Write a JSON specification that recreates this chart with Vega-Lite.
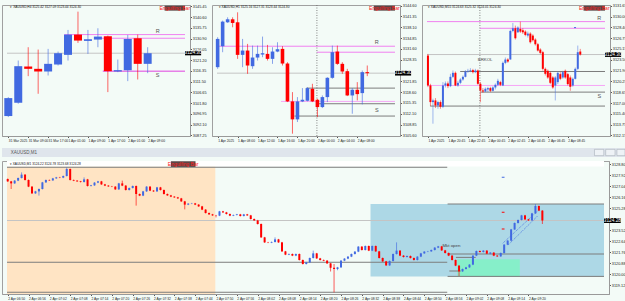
{
"$schema":"https://vega.github.io/schema/vega-lite/v6.json",
"background":"#f3fbf7",
"padding":{"left":1,"top":3,"right":0,"bottom":0},
"config":{"view":{"stroke":"#a0a0a0","fill":"#f3fbf7"},"font":"Liberation Sans","text":{"font":"Liberation Sans"},
"axis":{"labelFontSize":3.8,"labelColor":"#222","labelFont":"Liberation Sans","tickColor":"#555","tickSize":1.5,"domainColor":"#999","labelPadding":0.8,"grid":false,"labelOverlap":false,"labelFlush":false,"labelSeparation":0,"tickCount":200},
"axisX":{"labelFontSize":3.3}},
"datasets":{
"c1":[{"k":0,"o":3095.95,"h":3104.50,"l":3095.50,"c":3104.05},{"k":1,"o":3101.95,"h":3121.00,"l":3101.50,"c":3118.45},{"k":2,"o":3118.30,"h":3127.00,"l":3113.95,"c":3117.25},{"k":3,"o":3117.25,"h":3125.95,"l":3106.00,"c":3116.05},{"k":4,"o":3116.05,"h":3126.25,"l":3114.25,"c":3119.50},{"k":5,"o":3119.20,"h":3125.05,"l":3118.75,"c":3124.30},{"k":6,"o":3123.55,"h":3134.80,"l":3121.00,"c":3132.70},{"k":7,"o":3132.70,"h":3143.05,"l":3128.95,"c":3130.00},{"k":8,"o":3129.85,"h":3134.80,"l":3124.00,"c":3130.60},{"k":9,"o":3130.45,"h":3135.55,"l":3127.00,"c":3131.80},{"k":10,"o":3131.95,"h":3132.25,"l":3106.75,"c":3116.20},{"k":11,"o":3116.05,"h":3121.45,"l":3115.75,"c":3116.65},{"k":12,"o":3116.65,"h":3132.55,"l":3111.70,"c":3130.75},{"k":13,"o":3131.05,"h":3132.70,"l":3112.45,"c":3119.50},{"k":14,"o":3119.50,"h":3127.00,"l":3115.30,"c":3124.30}],
"l1":[{"a":5.62,"b":17.75,"y":3132.70,"kind":"res"},{"a":9.3,"b":17.75,"y":3131.05,"kind":"res"},{"a":9.49,"b":17.75,"y":3116.20,"kind":"sup"},{"a":-0.13,"b":17.75,"y":3124.30,"kind":"price"}],
"r1":[{"a":15.7,"b":17.75,"y":3143.5,"y2":3145.75,"kind":"engbox"},{"a":17.75,"b":19.37,"y":3123.35,"y2":3125.2,"kind":"pxbox"}],
"t1":[{"k":15.0,"y":3134.20,"s":"R","kind":"rs"},{"k":15.0,"y":3114.55,"s":"S","kind":"rs"},{"k":16.72,"y":3144.62,"s":"Engulfing Bar","kind":"eng"},{"k":18.56,"y":3124.20,"s":"3124.30","kind":"px"},{"k":0.2,"y":3145.0,"s":"▾ XAUUSD,H4  3125.42 3127.09 3123.44 3124.30","kind":"hdr"}],
"c2":[{"k":0,"o":3126.10,"h":3135.10,"l":3125.60,"c":3134.60},{"k":1,"o":3132.40,"h":3140.10,"l":3130.60,"c":3139.80},{"k":2,"o":3139.60,"h":3141.10,"l":3139.40,"c":3140.50},{"k":3,"o":3140.50,"h":3141.10,"l":3138.10,"c":3139.40},{"k":4,"o":3139.60,"h":3142.60,"l":3128.60,"c":3129.80},{"k":5,"o":3129.80,"h":3134.60,"l":3126.10,"c":3131.10},{"k":6,"o":3131.10,"h":3133.10,"l":3124.10,"c":3126.60},{"k":7,"o":3126.40,"h":3132.60,"l":3125.60,"c":3129.00},{"k":8,"o":3129.00,"h":3132.60,"l":3128.10,"c":3130.10},{"k":9,"o":3129.90,"h":3135.30,"l":3129.10,"c":3130.30},{"k":10,"o":3130.10,"h":3132.80,"l":3128.10,"c":3128.60},{"k":11,"o":3128.60,"h":3132.10,"l":3127.10,"c":3130.80},{"k":12,"o":3130.80,"h":3133.60,"l":3130.60,"c":3131.50},{"k":13,"o":3131.60,"h":3132.40,"l":3126.60,"c":3127.20},{"k":14,"o":3127.20,"h":3127.60,"l":3115.60,"c":3115.80},{"k":15,"o":3115.80,"h":3118.60,"l":3106.10,"c":3110.40},{"k":16,"o":3110.40,"h":3117.10,"l":3109.60,"c":3115.80},{"k":17,"o":3115.80,"h":3119.80,"l":3115.60,"c":3116.30},{"k":18,"o":3116.00,"h":3120.10,"l":3115.80,"c":3119.80},{"k":19,"o":3119.60,"h":3121.10,"l":3115.60,"c":3115.80},{"k":20,"o":3116.30,"h":3116.60,"l":3111.10,"c":3114.10},{"k":21,"o":3114.10,"h":3117.60,"l":3113.80,"c":3117.10},{"k":22,"o":3117.10,"h":3123.10,"l":3115.60,"c":3122.90},{"k":23,"o":3122.90,"h":3132.60,"l":3122.60,"c":3130.60},{"k":24,"o":3130.80,"h":3132.60,"l":3126.80,"c":3127.10},{"k":25,"o":3127.10,"h":3127.60,"l":3124.10,"c":3124.80},{"k":26,"o":3124.90,"h":3125.60,"l":3117.40,"c":3117.60},{"k":27,"o":3117.60,"h":3119.80,"l":3112.10,"c":3119.30},{"k":28,"o":3119.30,"h":3121.60,"l":3116.10,"c":3118.00},{"k":29,"o":3118.30,"h":3125.10,"l":3114.90,"c":3124.60},{"k":30,"o":3124.60,"h":3126.60,"l":3123.40,"c":3124.30}],
"l2":[{"a":-0.13,"b":35.56,"y":3132.40,"kind":"res"},{"a":19.87,"b":35.56,"y":3130.60,"kind":"res"},{"a":12.7,"b":35.56,"y":3115.80,"kind":"zone"},{"a":-0.13,"b":35.56,"y":3124.30,"kind":"price"},{"a":17.8,"b":35.56,"y":3119.80,"kind":"level"},{"a":20.3,"b":35.56,"y":3115.10,"kind":"level"},{"a":15.4,"b":35.56,"y":3111.40,"kind":"level"}],
"r2":[{"a":31.3,"b":35.56,"y":3143.1,"y2":3144.6,"kind":"engbox"},{"a":35.56,"b":38.79,"y":3123.58,"y2":3125.02,"kind":"pxbox"}],
"t2":[{"k":31.9,"y":3133.60,"s":"R","kind":"rs"},{"k":31.9,"y":3113.10,"s":"S","kind":"rs"},{"k":33.43,"y":3143.85,"s":"Engulfing Bar","kind":"eng"},{"k":37.18,"y":3124.30,"s":"3124.30","kind":"px"},{"k":0.2,"y":3144.1,"s":"▾ XAUUSD,H1  3125.16 3127.31 3123.44 3124.30","kind":"hdr"}],
"c3":[{"k":0,"o":3124.15,"h":3124.40,"l":3119.40,"c":3119.65},{"k":1,"o":3119.65,"h":3119.90,"l":3116.55,"c":3117.15},{"k":2,"o":3117.15,"h":3117.65,"l":3113.90,"c":3117.40},{"k":3,"o":3117.40,"h":3117.75,"l":3116.25,"c":3116.65},{"k":4,"o":3116.65,"h":3117.35,"l":3116.15,"c":3117.15},{"k":5,"o":3117.15,"h":3117.40,"l":3116.15,"c":3116.45},{"k":6,"o":3116.45,"h":3120.15,"l":3116.25,"c":3119.65},{"k":7,"o":3119.65,"h":3120.25,"l":3119.35,"c":3119.95},{"k":8,"o":3119.95,"h":3120.25,"l":3119.25,"c":3119.55},{"k":9,"o":3119.55,"h":3121.40,"l":3119.40,"c":3120.95},{"k":10,"o":3120.95,"h":3121.90,"l":3120.75,"c":3121.55},{"k":11,"o":3121.55,"h":3121.75,"l":3119.55,"c":3119.65},{"k":12,"o":3119.65,"h":3120.35,"l":3119.45,"c":3120.05},{"k":13,"o":3120.05,"h":3120.75,"l":3119.85,"c":3120.55},{"k":14,"o":3120.55,"h":3121.15,"l":3120.35,"c":3120.95},{"k":15,"o":3120.95,"h":3121.95,"l":3120.85,"c":3121.75},{"k":16,"o":3121.75,"h":3122.15,"l":3121.55,"c":3121.85},{"k":17,"o":3121.85,"h":3122.25,"l":3121.65,"c":3121.95},{"k":18,"o":3121.95,"h":3122.15,"l":3121.45,"c":3121.65},{"k":19,"o":3121.65,"h":3122.15,"l":3121.50,"c":3121.90},{"k":20,"o":3121.90,"h":3122.05,"l":3119.75,"c":3119.90},{"k":21,"o":3119.90,"h":3120.15,"l":3117.15,"c":3118.90},{"k":22,"o":3118.90,"h":3119.25,"l":3118.55,"c":3118.75},{"k":23,"o":3118.75,"h":3119.35,"l":3118.65,"c":3119.15},{"k":24,"o":3119.05,"h":3119.45,"l":3118.65,"c":3119.25},{"k":25,"o":3119.25,"h":3119.45,"l":3118.65,"c":3118.85},{"k":26,"o":3118.85,"h":3119.55,"l":3118.75,"c":3119.35},{"k":27,"o":3119.35,"h":3119.95,"l":3119.05,"c":3119.75},{"k":28,"o":3119.75,"h":3120.65,"l":3119.55,"c":3120.35},{"k":29,"o":3120.15,"h":3120.35,"l":3119.55,"c":3119.75},{"k":30,"o":3119.65,"h":3123.25,"l":3119.55,"c":3123.05},{"k":31,"o":3123.05,"h":3123.85,"l":3122.85,"c":3123.55},{"k":32,"o":3123.55,"h":3123.75,"l":3123.05,"c":3123.25},{"k":33,"o":3123.55,"h":3128.05,"l":3123.55,"c":3127.85},{"k":34,"o":3127.85,"h":3129.05,"l":3127.65,"c":3128.25},{"k":35,"o":3128.25,"h":3128.65,"l":3126.55,"c":3126.75},{"k":36,"o":3127.65,"h":3128.55,"l":3127.55,"c":3128.35},{"k":37,"o":3128.15,"h":3129.25,"l":3127.55,"c":3127.75},{"k":38,"o":3127.95,"h":3128.25,"l":3127.40,"c":3127.65},{"k":39,"o":3127.75,"h":3127.95,"l":3127.05,"c":3127.25},{"k":40,"o":3127.15,"h":3127.75,"l":3126.85,"c":3127.45},{"k":41,"o":3127.45,"h":3127.65,"l":3125.95,"c":3126.15},{"k":42,"o":3127.15,"h":3127.35,"l":3126.25,"c":3126.45},{"k":43,"o":3126.55,"h":3126.75,"l":3125.65,"c":3125.85},{"k":44,"o":3125.85,"h":3126.05,"l":3124.75,"c":3124.90},{"k":45,"o":3125.05,"h":3125.25,"l":3124.35,"c":3124.55},{"k":46,"o":3124.65,"h":3124.85,"l":3121.90,"c":3122.15},{"k":47,"o":3122.15,"h":3122.35,"l":3121.15,"c":3121.40},{"k":48,"o":3121.85,"h":3122.05,"l":3120.65,"c":3120.85},{"k":49,"o":3121.55,"h":3121.75,"l":3119.85,"c":3120.05},{"k":50,"o":3120.85,"h":3121.05,"l":3119.15,"c":3119.35},{"k":51,"o":3119.65,"h":3121.05,"l":3117.40,"c":3120.85},{"k":52,"o":3120.15,"h":3121.75,"l":3119.85,"c":3121.55},{"k":53,"o":3121.35,"h":3121.65,"l":3120.45,"c":3120.65},{"k":54,"o":3120.85,"h":3121.85,"l":3120.65,"c":3121.65},{"k":55,"o":3121.85,"h":3122.05,"l":3120.65,"c":3120.85},{"k":56,"o":3121.35,"h":3121.55,"l":3119.65,"c":3119.85},{"k":57,"o":3120.85,"h":3121.15,"l":3118.85,"c":3119.45},{"k":58,"o":3119.65,"h":3120.85,"l":3119.45,"c":3120.65},{"k":59,"o":3120.65,"h":3122.35,"l":3120.55,"c":3122.15},{"k":60,"o":3122.15,"h":3125.65,"l":3121.95,"c":3124.65},{"k":61,"o":3124.75,"h":3125.15,"l":3124.15,"c":3124.30}],
"l3":[{"a":-0.38,"b":70.9,"y":3129.25,"kind":"res"},{"a":20.8,"b":70.9,"y":3128.25,"kind":"res"},{"a":-0.38,"b":70.9,"y":3124.30,"kind":"price"},{"a":12.9,"b":70.9,"y":3121.75,"kind":"level"},{"a":-0.38,"b":70.9,"y":3119.65,"kind":"zone"},{"a":21.1,"b":70.9,"y":3118.65,"kind":"level"},{"a":0.9,"b":70.9,"y":3116.55,"kind":"level"},{"a":58.5,"b":59.3,"y":3128.35,"kind":"bmark"}],
"r3":[{"a":62.3,"b":70.9,"y":3130.90,"y2":3131.65,"kind":"engbox"},{"a":70.9,"b":77.35,"y":3123.94,"y2":3124.66,"kind":"pxbox"}],
"t3":[{"k":68.6,"y":3129.75,"s":"R","kind":"rs"},{"k":68.6,"y":3118.0,"s":"S","kind":"rs"},{"k":22.9,"y":3123.55,"s":"BRKOL","kind":"note"},{"k":66.6,"y":3131.28,"s":"Engulfing Bar","kind":"eng"},{"k":74.1,"y":3124.30,"s":"3124.30","kind":"px"},{"k":0.0,"y":3131.4,"s":"▾ XAUUSD,M15  3124.63 3125.32 3124.01 3124.30","kind":"hdr"}],
"cb":[{"k":0,"o":3127.60,"h":3127.64,"l":3127.37,"c":3127.41},{"k":1,"o":3127.41,"h":3127.45,"l":3126.80,"c":3127.25},{"k":2,"o":3127.25,"h":3127.51,"l":3127.21,"c":3127.47},{"k":3,"o":3127.47,"h":3127.72,"l":3127.43,"c":3127.68},{"k":4,"o":3127.68,"h":3128.13,"l":3127.64,"c":3127.95},{"k":5,"o":3127.95,"h":3127.99,"l":3127.48,"c":3127.52},{"k":6,"o":3127.52,"h":3127.56,"l":3126.95,"c":3126.99},{"k":7,"o":3126.99,"h":3127.03,"l":3126.41,"c":3126.45},{"k":8,"o":3126.45,"h":3126.65,"l":3126.41,"c":3126.61},{"k":9,"o":3126.61,"h":3126.84,"l":3126.27,"c":3126.80},{"k":10,"o":3126.80,"h":3127.37,"l":3126.76,"c":3127.33},{"k":11,"o":3127.33,"h":3127.56,"l":3127.29,"c":3127.52},{"k":12,"o":3127.52,"h":3127.56,"l":3127.45,"c":3127.49},{"k":13,"o":3127.49,"h":3127.69,"l":3127.45,"c":3127.65},{"k":14,"o":3127.65,"h":3127.77,"l":3127.61,"c":3127.73},{"k":15,"o":3127.73,"h":3127.77,"l":3127.67,"c":3127.71},{"k":16,"o":3127.71,"h":3127.88,"l":3127.67,"c":3127.84},{"k":17,"o":3127.84,"h":3128.53,"l":3127.80,"c":3128.40},{"k":18,"o":3128.40,"h":3128.44,"l":3127.48,"c":3127.52},{"k":19,"o":3127.52,"h":3127.56,"l":3127.43,"c":3127.47},{"k":20,"o":3127.47,"h":3127.51,"l":3127.37,"c":3127.41},{"k":21,"o":3127.41,"h":3127.45,"l":3127.32,"c":3127.36},{"k":22,"o":3127.36,"h":3127.73,"l":3127.32,"c":3127.57},{"k":23,"o":3127.57,"h":3127.61,"l":3127.00,"c":3127.04},{"k":24,"o":3127.04,"h":3127.13,"l":3127.00,"c":3127.09},{"k":25,"o":3127.09,"h":3127.35,"l":3127.05,"c":3127.31},{"k":26,"o":3127.31,"h":3127.45,"l":3127.27,"c":3127.41},{"k":27,"o":3127.41,"h":3127.45,"l":3127.13,"c":3127.17},{"k":28,"o":3127.17,"h":3127.21,"l":3127.03,"c":3127.07},{"k":29,"o":3127.07,"h":3127.11,"l":3126.97,"c":3127.01},{"k":30,"o":3127.01,"h":3127.05,"l":3126.95,"c":3126.99},{"k":31,"o":3126.99,"h":3127.03,"l":3126.73,"c":3126.77},{"k":32,"o":3126.77,"h":3127.29,"l":3126.73,"c":3127.25},{"k":33,"o":3127.25,"h":3127.47,"l":3127.03,"c":3127.07},{"k":34,"o":3127.07,"h":3127.11,"l":3126.68,"c":3126.72},{"k":35,"o":3126.72,"h":3126.92,"l":3126.68,"c":3126.88},{"k":36,"o":3126.88,"h":3127.08,"l":3126.84,"c":3127.04},{"k":37,"o":3127.04,"h":3127.08,"l":3125.47,"c":3126.40},{"k":38,"o":3126.40,"h":3126.44,"l":3126.23,"c":3126.27},{"k":39,"o":3126.27,"h":3126.65,"l":3126.23,"c":3126.61},{"k":40,"o":3126.61,"h":3127.03,"l":3126.57,"c":3126.99},{"k":41,"o":3126.99,"h":3127.03,"l":3126.63,"c":3126.67},{"k":42,"o":3126.67,"h":3126.71,"l":3126.57,"c":3126.61},{"k":43,"o":3126.61,"h":3126.97,"l":3126.57,"c":3126.93},{"k":44,"o":3126.93,"h":3126.97,"l":3126.68,"c":3126.72},{"k":45,"o":3126.72,"h":3126.76,"l":3126.36,"c":3126.40},{"k":46,"o":3126.40,"h":3126.44,"l":3126.25,"c":3126.29},{"k":47,"o":3126.29,"h":3126.33,"l":3126.15,"c":3126.19},{"k":48,"o":3126.19,"h":3126.23,"l":3126.09,"c":3126.13},{"k":49,"o":3126.13,"h":3126.17,"l":3126.01,"c":3126.05},{"k":50,"o":3126.05,"h":3126.09,"l":3125.77,"c":3125.81},{"k":51,"o":3125.81,"h":3125.85,"l":3125.17,"c":3125.55},{"k":52,"o":3125.55,"h":3125.67,"l":3125.51,"c":3125.63},{"k":53,"o":3125.63,"h":3125.69,"l":3125.59,"c":3125.65},{"k":54,"o":3125.65,"h":3125.69,"l":3125.51,"c":3125.55},{"k":55,"o":3125.55,"h":3125.59,"l":3125.37,"c":3125.41},{"k":56,"o":3125.41,"h":3125.45,"l":3125.11,"c":3125.15},{"k":57,"o":3125.15,"h":3125.19,"l":3124.84,"c":3124.88},{"k":58,"o":3124.88,"h":3124.92,"l":3124.73,"c":3124.77},{"k":59,"o":3124.77,"h":3124.81,"l":3124.65,"c":3124.69},{"k":60,"o":3124.69,"h":3124.73,"l":3124.53,"c":3124.67},{"k":61,"o":3124.67,"h":3125.05,"l":3124.63,"c":3125.01},{"k":62,"o":3125.01,"h":3125.05,"l":3124.89,"c":3124.93},{"k":63,"o":3124.93,"h":3124.97,"l":3124.76,"c":3124.80},{"k":64,"o":3124.80,"h":3124.84,"l":3124.63,"c":3124.67},{"k":65,"o":3124.67,"h":3124.76,"l":3124.63,"c":3124.72},{"k":66,"o":3124.72,"h":3124.81,"l":3124.68,"c":3124.77},{"k":67,"o":3124.77,"h":3124.81,"l":3124.60,"c":3124.64},{"k":68,"o":3124.64,"h":3124.81,"l":3124.60,"c":3124.77},{"k":69,"o":3124.77,"h":3124.81,"l":3124.65,"c":3124.69},{"k":70,"o":3124.69,"h":3124.73,"l":3124.36,"c":3124.40},{"k":71,"o":3124.40,"h":3124.44,"l":3124.25,"c":3124.29},{"k":72,"o":3124.29,"h":3124.33,"l":3123.96,"c":3124.00},{"k":73,"o":3124.00,"h":3124.04,"l":3122.89,"c":3122.93},{"k":74,"o":3122.93,"h":3122.97,"l":3122.49,"c":3122.53},{"k":75,"o":3122.53,"h":3122.57,"l":3122.47,"c":3122.51},{"k":76,"o":3122.51,"h":3122.60,"l":3122.47,"c":3122.56},{"k":77,"o":3122.56,"h":3122.93,"l":3122.52,"c":3122.77},{"k":78,"o":3122.77,"h":3122.81,"l":3122.49,"c":3122.53},{"k":79,"o":3122.53,"h":3122.57,"l":3121.77,"c":3121.81},{"k":80,"o":3121.81,"h":3121.85,"l":3121.51,"c":3121.55},{"k":81,"o":3121.55,"h":3121.64,"l":3121.51,"c":3121.60},{"k":82,"o":3121.60,"h":3121.64,"l":3121.43,"c":3121.47},{"k":83,"o":3121.47,"h":3121.64,"l":3121.43,"c":3121.60},{"k":84,"o":3121.60,"h":3121.64,"l":3121.08,"c":3121.12},{"k":85,"o":3121.12,"h":3121.16,"l":3120.76,"c":3120.80},{"k":86,"o":3120.80,"h":3120.97,"l":3120.76,"c":3120.93},{"k":87,"o":3120.93,"h":3121.32,"l":3120.89,"c":3121.28},{"k":88,"o":3121.28,"h":3121.87,"l":3121.24,"c":3121.65},{"k":89,"o":3121.65,"h":3121.69,"l":3121.21,"c":3121.25},{"k":90,"o":3121.25,"h":3121.29,"l":3121.08,"c":3121.12},{"k":91,"o":3121.12,"h":3121.16,"l":3121.03,"c":3121.07},{"k":92,"o":3121.07,"h":3121.11,"l":3120.81,"c":3120.85},{"k":93,"o":3120.85,"h":3120.89,"l":3120.20,"c":3120.50},{"k":94,"o":3120.50,"h":3120.80,"l":3118.53,"c":3120.40},{"k":95,"o":3120.40,"h":3120.57,"l":3120.30,"c":3120.53},{"k":96,"o":3120.53,"h":3121.11,"l":3120.49,"c":3121.07},{"k":97,"o":3121.07,"h":3121.27,"l":3121.03,"c":3121.23},{"k":98,"o":3121.23,"h":3121.43,"l":3121.19,"c":3121.39},{"k":99,"o":3121.39,"h":3121.64,"l":3121.35,"c":3121.60},{"k":100,"o":3121.60,"h":3121.83,"l":3121.56,"c":3121.79},{"k":101,"o":3121.79,"h":3122.23,"l":3121.75,"c":3122.19},{"k":102,"o":3122.19,"h":3122.23,"l":3121.88,"c":3121.92},{"k":103,"o":3121.92,"h":3122.28,"l":3121.88,"c":3122.24},{"k":104,"o":3122.24,"h":3122.28,"l":3121.83,"c":3121.87},{"k":105,"o":3121.87,"h":3122.28,"l":3121.83,"c":3122.24},{"k":106,"o":3122.24,"h":3122.28,"l":3121.77,"c":3121.81},{"k":107,"o":3121.81,"h":3121.85,"l":3121.24,"c":3121.28},{"k":108,"o":3121.28,"h":3121.32,"l":3120.97,"c":3121.01},{"k":109,"o":3121.01,"h":3121.05,"l":3120.65,"c":3120.69},{"k":110,"o":3120.69,"h":3121.08,"l":3120.65,"c":3121.04},{"k":111,"o":3121.04,"h":3121.64,"l":3121.00,"c":3121.60},{"k":112,"o":3121.60,"h":3122.53,"l":3121.56,"c":3121.87},{"k":113,"o":3121.87,"h":3121.91,"l":3121.43,"c":3121.47},{"k":114,"o":3121.47,"h":3121.51,"l":3121.32,"c":3121.36},{"k":115,"o":3121.36,"h":3121.48,"l":3121.32,"c":3121.44},{"k":116,"o":3121.44,"h":3121.48,"l":3121.24,"c":3121.28},{"k":117,"o":3121.28,"h":3121.32,"l":3121.08,"c":3121.12},{"k":118,"o":3121.12,"h":3121.43,"l":3121.08,"c":3121.39},{"k":119,"o":3121.39,"h":3121.69,"l":3121.35,"c":3121.65},{"k":120,"o":3121.65,"h":3121.83,"l":3121.61,"c":3121.79},{"k":121,"o":3121.79,"h":3121.85,"l":3121.75,"c":3121.81},{"k":122,"o":3121.81,"h":3121.96,"l":3121.77,"c":3121.92},{"k":123,"o":3121.92,"h":3122.15,"l":3121.88,"c":3122.11},{"k":124,"o":3122.11,"h":3122.25,"l":3122.07,"c":3122.21},{"k":125,"o":3122.21,"h":3122.25,"l":3121.85,"c":3121.89},{"k":126,"o":3121.89,"h":3121.93,"l":3121.64,"c":3121.68},{"k":127,"o":3121.68,"h":3121.72,"l":3121.43,"c":3121.47},{"k":128,"o":3121.47,"h":3121.51,"l":3121.08,"c":3121.12},{"k":129,"o":3121.12,"h":3121.16,"l":3120.63,"c":3120.67},{"k":130,"o":3120.67,"h":3120.71,"l":3119.84,"c":3120.21},{"k":131,"o":3120.21,"h":3120.44,"l":3120.17,"c":3120.40},{"k":132,"o":3120.40,"h":3120.57,"l":3120.36,"c":3120.53},{"k":133,"o":3120.53,"h":3120.79,"l":3120.49,"c":3120.75},{"k":134,"o":3120.75,"h":3121.51,"l":3120.71,"c":3121.47},{"k":135,"o":3121.47,"h":3121.88,"l":3121.43,"c":3121.84},{"k":136,"o":3121.84,"h":3121.88,"l":3121.72,"c":3121.76},{"k":137,"o":3121.76,"h":3121.91,"l":3121.72,"c":3121.87},{"k":138,"o":3121.87,"h":3121.91,"l":3121.59,"c":3121.63},{"k":139,"o":3121.63,"h":3121.75,"l":3121.59,"c":3121.71},{"k":140,"o":3121.71,"h":3121.75,"l":3121.43,"c":3121.47},{"k":141,"o":3121.47,"h":3121.51,"l":3121.37,"c":3121.41},{"k":142,"o":3121.41,"h":3121.72,"l":3121.37,"c":3121.68},{"k":143,"o":3121.68,"h":3122.39,"l":3121.64,"c":3122.35},{"k":144,"o":3122.35,"h":3122.71,"l":3122.31,"c":3122.67},{"k":145,"o":3122.67,"h":3123.61,"l":3122.63,"c":3123.57},{"k":146,"o":3123.57,"h":3124.12,"l":3123.53,"c":3124.08},{"k":147,"o":3124.08,"h":3124.36,"l":3124.04,"c":3124.32},{"k":148,"o":3124.32,"h":3124.73,"l":3124.28,"c":3124.69},{"k":149,"o":3124.69,"h":3124.73,"l":3124.33,"c":3124.37},{"k":150,"o":3124.37,"h":3124.41,"l":3124.25,"c":3124.29},{"k":151,"o":3124.29,"h":3124.89,"l":3124.25,"c":3124.85},{"k":152,"o":3124.85,"h":3125.60,"l":3124.81,"c":3125.44},{"k":153,"o":3125.44,"h":3125.48,"l":3125.03,"c":3125.07},{"k":154,"o":3125.07,"h":3125.11,"l":3124.00,"c":3124.28}],
"lb":[{"a":-0.2,"b":126.6,"y":3128.54,"kind":"level"},{"a":-0.2,"b":126.6,"y":3120.94,"kind":"level"},{"a":-0.2,"b":126.6,"y":3118.54,"kind":"level"},{"a":126.7,"b":171.75,"y":3125.60,"kind":"level"},{"a":126.7,"b":171.75,"y":3121.60,"kind":"level"},{"a":126.7,"b":171.75,"y":3119.81,"kind":"level"},{"a":127.2,"b":130.5,"y":3120.24,"kind":"level"},{"a":129.1,"b":134.8,"y":3121.33,"kind":"level"},{"a":-0.2,"b":171.75,"y":3124.28,"kind":"price"},{"a":142.3,"b":143.1,"y":3127.74,"kind":"bmark"},{"a":142.3,"b":143.1,"y":3124.94,"kind":"rmark"},{"a":142.3,"b":143.1,"y":3123.60,"kind":"rmark"}],
"rb":[{"a":-0.2,"b":59.8,"y":3118.4,"y2":3128.6,"kind":"session"},{"a":104.5,"b":171.75,"y":3119.81,"y2":3125.60,"kind":"box"},{"a":129.5,"b":147.5,"y":3119.81,"y2":3121.18,"kind":"open"},{"a":-0.2,"b":171.75,"y":3128.6,"y2":3129.04,"kind":"header"},{"a":47.0,"b":54.1,"y":3128.56,"y2":3129.02,"kind":"engbox"},{"a":171.75,"b":176.57,"y":3124.08,"y2":3124.48,"kind":"pxbox"}],
"tb":[{"k":50.55,"y":3128.79,"s":"Engulfing Bar","kind":"eng"},{"k":127.8,"y":3122.24,"s":"Mkt open","kind":"note"},{"k":174.16,"y":3124.28,"s":"3124.28","kind":"px"},{"k":0.6,"y":3128.82,"s":"▾ XAUUSD,M1  3124.22 3124.78 3123.68 3124.28","kind":"hdr"}],
"trb":[{"a":142.6,"b":152.7,"y":3122.46,"y2":3125.06},{"a":144.2,"b":152.7,"y":3122.34,"y2":3124.66}]
},
"spacing":3,
"vconcat":[
{"hconcat":[
{"width":188,"height":131,"layer":[
{"data":{"name":"r1"},"mark":{"type":"rect","clip":false},"encoding":{"x":{"field":"a","type":"quantitative","title":null,"scale":{"domain":[-0.13,17.75],"nice":false,"zero":false},"axis":{"values":[0,2,4,6,8,10,12,14],"tickCount":200,"labelFontSize":3.3,"labelExpr":"['31 Mar 2025','31 Mar 09:00','31 Mar 17:00','1 Apr 01:00','1 Apr 09:00','1 Apr 17:00','2 Apr 01:00','2 Apr 09:00'][round(datum.value/2)]","labelAlign":"left","labelFlush":false,"labelOverlap":false,"minExtent":8,"maxExtent":8}},"x2":{"field":"b"},"y":{"field":"y","type":"quantitative","title":null,"scale":{"domain":[3086.95,3146.05],"nice":false,"zero":false},"axis":{"orient":"right","tickCount":200,"values":[3145.45,3140.60,3135.75,3130.90,3126.05,3121.20,3116.35,3111.50,3106.65,3101.80,3096.95,3092.10,3087.25],"format":".2f","minExtent":17,"maxExtent":17,"labelOverlap":false,"labelFlush":false}},"y2":{"field":"y2"},"color":{"field":"kind","type":"nominal","legend":null,"scale":{"domain":["res","sup","zone","level","price","bmark","rmark","engbox","pxbox","session","box","open","header","rs","eng","px","note","hdr"],"range":["#f080f0","#e040e0","#f6a6f6","#7c7c7c","#c4c4c4","#4169e1","#ff0000","#5a4646","#000000","#ffe4c4","#add8e6","#86efc9","#ffffff","#555555","#ff2020","#ffffff","#444444","#111111"]}}}},
{"data":{"name":"l1"},"mark":{"type":"rule"},"encoding":{"x":{"field":"a","type":"quantitative","title":null,"scale":{"domain":[-0.13,17.75],"nice":false,"zero":false}},"x2":{"field":"b"},"y":{"field":"y","type":"quantitative","title":null,"scale":{"domain":[3086.95,3146.05],"nice":false,"zero":false}},"color":{"field":"kind","type":"nominal","legend":null,"scale":{"domain":["res","sup","zone","level","price","bmark","rmark","engbox","pxbox","session","box","open","header","rs","eng","px","note","hdr"],"range":["#f080f0","#e040e0","#f6a6f6","#7c7c7c","#c4c4c4","#4169e1","#ff0000","#5a4646","#000000","#ffe4c4","#add8e6","#86efc9","#ffffff","#555555","#ff2020","#ffffff","#444444","#111111"]}},"strokeWidth":{"field":"kind","type":"nominal","legend":null,"scale":{"domain":["res","sup","zone","level","price","bmark","rmark"],"range":[1,1,2.5,1,1,1.2,1.2]}}}},
{"data":{"name":"c1"},"mark":{"type":"rule","clip":true,"opacity":0.6,"strokeWidth":1},"encoding":{"x":{"field":"k","type":"quantitative","title":null,"scale":{"domain":[-0.13,17.75],"nice":false,"zero":false}},"y":{"field":"l","type":"quantitative","title":null,"scale":{"domain":[3086.95,3146.05],"nice":false,"zero":false}},"y2":{"field":"h"},"color":{"condition":{"test":"datum.c >= datum.o","value":"#4169e1"},"value":"#ff0000"}}},
{"data":{"name":"c1"},"mark":{"type":"bar","width":8,"clip":true},"encoding":{"x":{"field":"k","type":"quantitative","title":null,"scale":{"domain":[-0.13,17.75],"nice":false,"zero":false}},"y":{"field":"o","type":"quantitative","title":null,"scale":{"domain":[3086.95,3146.05],"nice":false,"zero":false}},"y2":{"field":"c"},"color":{"condition":{"test":"datum.c >= datum.o","value":"#4169e1"},"value":"#ff0000"}}},
{"data":{"name":"t1"},"transform":[{"filter":"datum.kind != 'hdr'"}],"mark":{"type":"text","clip":false,"baseline":"middle"},"encoding":{"x":{"field":"k","type":"quantitative","title":null,"scale":{"domain":[-0.13,17.75],"nice":false,"zero":false}},"y":{"field":"y","type":"quantitative","title":null,"scale":{"domain":[3086.95,3146.05],"nice":false,"zero":false}},"text":{"field":"s"},"color":{"field":"kind","type":"nominal","legend":null,"scale":{"domain":["res","sup","zone","level","price","bmark","rmark","engbox","pxbox","session","box","open","header","rs","eng","px","note","hdr"],"range":["#f080f0","#e040e0","#f6a6f6","#7c7c7c","#c4c4c4","#4169e1","#ff0000","#5a4646","#000000","#ffe4c4","#add8e6","#86efc9","#ffffff","#555555","#ff2020","#ffffff","#444444","#111111"]}},"size":{"field":"kind","type":"nominal","legend":null,"scale":{"domain":["rs","eng","px","note","hdr"],"range":[5.5,4,3.6,3.5,3.2]}}}},
{"data":{"name":"t1"},"transform":[{"filter":"datum.kind == 'hdr'"}],"mark":{"type":"text","align":"left","baseline":"middle","fontSize":3.2,"color":"#111"},"encoding":{"x":{"field":"k","type":"quantitative","title":null,"scale":{"domain":[-0.13,17.75],"nice":false,"zero":false}},"y":{"field":"y","type":"quantitative","title":null,"scale":{"domain":[3086.95,3146.05],"nice":false,"zero":false}},"text":{"field":"s"}}}
]},
{"width":188,"height":131,"layer":[
{"data":{"name":"r2"},"mark":{"type":"rect","clip":false},"encoding":{"x":{"field":"a","type":"quantitative","title":null,"scale":{"domain":[-0.13,35.56],"nice":false,"zero":false},"axis":{"values":[0,4,8,12,16,20,24,28],"tickCount":200,"labelFontSize":3.3,"labelExpr":"['1 Apr 2025','1 Apr 08:00','1 Apr 12:00','1 Apr 16:00','1 Apr 20:00','2 Apr 00:00','2 Apr 04:00','2 Apr 08:00'][round(datum.value/4)]","labelAlign":"left","labelFlush":false,"labelOverlap":false,"minExtent":8,"maxExtent":8}},"x2":{"field":"b"},"y":{"field":"y","type":"quantitative","title":null,"scale":{"domain":[3105.4,3144.8],"nice":false,"zero":false},"axis":{"orient":"right","tickCount":200,"values":[3144.60,3141.35,3138.10,3134.85,3131.60,3128.35,3121.85,3118.60,3115.35,3112.10,3108.85,3105.60],"format":".2f","minExtent":17,"maxExtent":17,"labelOverlap":false,"labelFlush":false}},"y2":{"field":"y2"},"color":{"field":"kind","type":"nominal","legend":null,"scale":{"domain":["res","sup","zone","level","price","bmark","rmark","engbox","pxbox","session","box","open","header","rs","eng","px","note","hdr"],"range":["#f080f0","#e040e0","#f6a6f6","#7c7c7c","#c4c4c4","#4169e1","#ff0000","#5a4646","#000000","#ffe4c4","#add8e6","#86efc9","#ffffff","#555555","#ff2020","#ffffff","#444444","#111111"]}}}},
{"data":{"name":"l2"},"mark":{"type":"rule"},"encoding":{"x":{"field":"a","type":"quantitative","title":null,"scale":{"domain":[-0.13,35.56],"nice":false,"zero":false}},"x2":{"field":"b"},"y":{"field":"y","type":"quantitative","title":null,"scale":{"domain":[3105.4,3144.8],"nice":false,"zero":false}},"color":{"field":"kind","type":"nominal","legend":null,"scale":{"domain":["res","sup","zone","level","price","bmark","rmark","engbox","pxbox","session","box","open","header","rs","eng","px","note","hdr"],"range":["#f080f0","#e040e0","#f6a6f6","#7c7c7c","#c4c4c4","#4169e1","#ff0000","#5a4646","#000000","#ffe4c4","#add8e6","#86efc9","#ffffff","#555555","#ff2020","#ffffff","#444444","#111111"]}},"strokeWidth":{"field":"kind","type":"nominal","legend":null,"scale":{"domain":["res","sup","zone","level","price","bmark","rmark"],"range":[1,1,2.5,1,1,1.2,1.2]}}}},
{"data":{"values":[{"a":19.9}]},"mark":{"type":"rule","strokeDash":[1,1.5],"color":"#666","strokeWidth":0.8},"encoding":{"x":{"field":"a","type":"quantitative","title":null,"scale":{"domain":[-0.13,35.56],"nice":false,"zero":false}}}},
{"data":{"name":"c2"},"mark":{"type":"rule","clip":true,"opacity":0.6,"strokeWidth":1},"encoding":{"x":{"field":"k","type":"quantitative","title":null,"scale":{"domain":[-0.13,35.56],"nice":false,"zero":false}},"y":{"field":"l","type":"quantitative","title":null,"scale":{"domain":[3105.4,3144.8],"nice":false,"zero":false}},"y2":{"field":"h"},"color":{"condition":{"test":"datum.c >= datum.o","value":"#4169e1"},"value":"#ff0000"}}},
{"data":{"name":"c2"},"mark":{"type":"bar","width":3.6,"clip":true},"encoding":{"x":{"field":"k","type":"quantitative","title":null,"scale":{"domain":[-0.13,35.56],"nice":false,"zero":false}},"y":{"field":"o","type":"quantitative","title":null,"scale":{"domain":[3105.4,3144.8],"nice":false,"zero":false}},"y2":{"field":"c"},"color":{"condition":{"test":"datum.c >= datum.o","value":"#4169e1"},"value":"#ff0000"}}},
{"data":{"name":"t2"},"transform":[{"filter":"datum.kind != 'hdr'"}],"mark":{"type":"text","clip":false,"baseline":"middle"},"encoding":{"x":{"field":"k","type":"quantitative","title":null,"scale":{"domain":[-0.13,35.56],"nice":false,"zero":false}},"y":{"field":"y","type":"quantitative","title":null,"scale":{"domain":[3105.4,3144.8],"nice":false,"zero":false}},"text":{"field":"s"},"color":{"field":"kind","type":"nominal","legend":null,"scale":{"domain":["res","sup","zone","level","price","bmark","rmark","engbox","pxbox","session","box","open","header","rs","eng","px","note","hdr"],"range":["#f080f0","#e040e0","#f6a6f6","#7c7c7c","#c4c4c4","#4169e1","#ff0000","#5a4646","#000000","#ffe4c4","#add8e6","#86efc9","#ffffff","#555555","#ff2020","#ffffff","#444444","#111111"]}},"size":{"field":"kind","type":"nominal","legend":null,"scale":{"domain":["rs","eng","px","note","hdr"],"range":[5.5,4,3.6,3.5,3.2]}}}},
{"data":{"name":"t2"},"transform":[{"filter":"datum.kind == 'hdr'"}],"mark":{"type":"text","align":"left","baseline":"middle","fontSize":3.2,"color":"#111"},"encoding":{"x":{"field":"k","type":"quantitative","title":null,"scale":{"domain":[-0.13,35.56],"nice":false,"zero":false}},"y":{"field":"y","type":"quantitative","title":null,"scale":{"domain":[3105.4,3144.8],"nice":false,"zero":false}},"text":{"field":"s"}}}
]},
{"width":188,"height":131,"layer":[
{"data":{"name":"r3"},"mark":{"type":"rect","clip":false},"encoding":{"x":{"field":"a","type":"quantitative","title":null,"scale":{"domain":[-0.38,70.9],"nice":false,"zero":false},"axis":{"values":[0,8,16,24,32,40,48,56],"tickCount":200,"labelFontSize":3.3,"labelExpr":"['1 Apr 2025','1 Apr 20:45','1 Apr 22:45','2 Apr 00:45','2 Apr 02:45','2 Apr 04:45','2 Apr 06:45','2 Apr 08:45'][round(datum.value/8)]","labelAlign":"left","labelFlush":false,"labelOverlap":false,"minExtent":8,"maxExtent":8}},"x2":{"field":"b"},"y":{"field":"y","type":"quantitative","title":null,"scale":{"domain":[3112.05,3131.75],"nice":false,"zero":false},"axis":{"orient":"right","tickCount":200,"values":[3131.65,3130.00,3128.40,3126.75,3125.15,3123.50,3121.90,3120.25,3118.65,3117.00,3115.40,3113.75,3112.15],"format":".2f","minExtent":17,"maxExtent":17,"labelOverlap":false,"labelFlush":false}},"y2":{"field":"y2"},"color":{"field":"kind","type":"nominal","legend":null,"scale":{"domain":["res","sup","zone","level","price","bmark","rmark","engbox","pxbox","session","box","open","header","rs","eng","px","note","hdr"],"range":["#f080f0","#e040e0","#f6a6f6","#7c7c7c","#c4c4c4","#4169e1","#ff0000","#5a4646","#000000","#ffe4c4","#add8e6","#86efc9","#ffffff","#555555","#ff2020","#ffffff","#444444","#111111"]}}}},
{"data":{"name":"l3"},"mark":{"type":"rule"},"encoding":{"x":{"field":"a","type":"quantitative","title":null,"scale":{"domain":[-0.38,70.9],"nice":false,"zero":false}},"x2":{"field":"b"},"y":{"field":"y","type":"quantitative","title":null,"scale":{"domain":[3112.05,3131.75],"nice":false,"zero":false}},"color":{"field":"kind","type":"nominal","legend":null,"scale":{"domain":["res","sup","zone","level","price","bmark","rmark","engbox","pxbox","session","box","open","header","rs","eng","px","note","hdr"],"range":["#f080f0","#e040e0","#f6a6f6","#7c7c7c","#c4c4c4","#4169e1","#ff0000","#5a4646","#000000","#ffe4c4","#add8e6","#86efc9","#ffffff","#555555","#ff2020","#ffffff","#444444","#111111"]}},"strokeWidth":{"field":"kind","type":"nominal","legend":null,"scale":{"domain":["res","sup","zone","level","price","bmark","rmark"],"range":[1,1,2.5,1,1,1.2,1.2]}}}},
{"data":{"values":[{"a":20.8}]},"mark":{"type":"rule","strokeDash":[1,1.5],"color":"#666","strokeWidth":0.8},"encoding":{"x":{"field":"a","type":"quantitative","title":null,"scale":{"domain":[-0.38,70.9],"nice":false,"zero":false}}}},
{"data":{"name":"c3"},"mark":{"type":"rule","clip":true,"opacity":0.6,"strokeWidth":0.8},"encoding":{"x":{"field":"k","type":"quantitative","title":null,"scale":{"domain":[-0.38,70.9],"nice":false,"zero":false}},"y":{"field":"l","type":"quantitative","title":null,"scale":{"domain":[3112.05,3131.75],"nice":false,"zero":false}},"y2":{"field":"h"},"color":{"condition":{"test":"datum.c >= datum.o","value":"#4169e1"},"value":"#ff0000"}}},
{"data":{"name":"c3"},"mark":{"type":"bar","width":2,"clip":true},"encoding":{"x":{"field":"k","type":"quantitative","title":null,"scale":{"domain":[-0.38,70.9],"nice":false,"zero":false}},"y":{"field":"o","type":"quantitative","title":null,"scale":{"domain":[3112.05,3131.75],"nice":false,"zero":false}},"y2":{"field":"c"},"color":{"condition":{"test":"datum.c >= datum.o","value":"#4169e1"},"value":"#ff0000"}}},
{"data":{"name":"t3"},"transform":[{"filter":"datum.kind != 'hdr'"}],"mark":{"type":"text","clip":false,"baseline":"middle"},"encoding":{"x":{"field":"k","type":"quantitative","title":null,"scale":{"domain":[-0.38,70.9],"nice":false,"zero":false}},"y":{"field":"y","type":"quantitative","title":null,"scale":{"domain":[3112.05,3131.75],"nice":false,"zero":false}},"text":{"field":"s"},"color":{"field":"kind","type":"nominal","legend":null,"scale":{"domain":["res","sup","zone","level","price","bmark","rmark","engbox","pxbox","session","box","open","header","rs","eng","px","note","hdr"],"range":["#f080f0","#e040e0","#f6a6f6","#7c7c7c","#c4c4c4","#4169e1","#ff0000","#5a4646","#000000","#ffe4c4","#add8e6","#86efc9","#ffffff","#555555","#ff2020","#ffffff","#444444","#111111"]}},"size":{"field":"kind","type":"nominal","legend":null,"scale":{"domain":["rs","eng","px","note","hdr"],"range":[5.5,4,3.6,3.5,3.2]}}}},
{"data":{"name":"t3"},"transform":[{"filter":"datum.kind == 'hdr'"}],"mark":{"type":"text","align":"left","baseline":"middle","fontSize":3.2,"color":"#111"},"encoding":{"x":{"field":"k","type":"quantitative","title":null,"scale":{"domain":[-0.38,70.9],"nice":false,"zero":false}},"y":{"field":"y","type":"quantitative","title":null,"scale":{"domain":[3112.05,3131.75],"nice":false,"zero":false}},"text":{"field":"s"}}}
]}
],"spacing":3},
{"width":623,"height":9,"view":{"fill":"#dfe5ec","stroke":null},"layer":[
{"data":{"values":[{"a":0.951,"b":0.966},{"a":0.969,"b":0.984},{"a":0.987,"b":1.0}]},"mark":{"type":"rect","fill":"#eef2f6","stroke":"#9aa4ae","strokeWidth":0.5},"encoding":{"x":{"field":"a","type":"quantitative","title":null,"scale":{"domain":[0,1],"nice":false},"axis":null},"x2":{"field":"b"},"y":{"datum":0.15,"type":"quantitative","scale":{"domain":[0,1],"nice":false},"axis":null},"y2":{"datum":0.85}}},
{"data":{"values":[{"x":0.014,"y":0.5,"s":"XAUUSD,M1"}]},"mark":{"type":"text","align":"left","baseline":"middle","fontSize":4.5,"color":"#555"},"encoding":{"x":{"field":"x","type":"quantitative","title":null,"scale":{"domain":[0,1],"nice":false},"axis":null},"y":{"field":"y","type":"quantitative","title":null,"scale":{"domain":[0,1],"nice":false},"axis":null},"text":{"field":"s"}}}
]},
{"width":607,"height":133,"layer":[
{"data":{"name":"rb"},"mark":{"type":"rect","clip":false},"encoding":{"x":{"field":"a","type":"quantitative","title":null,"scale":{"domain":[-0.2,171.75],"nice":false,"zero":false},"axis":{"values":[0,6,12,18,24,30,36,42,48,54,60,66,72,78,84,90,96,102,108,114,120,126,132,138,144,150],"tickCount":200,"labelFontSize":3.3,"labelExpr":"'2 Apr ' + timeFormat(datetime(2025,3,2,6,50+datum.value), '%H:%M')","labelAlign":"left","labelFlush":false,"labelOverlap":false,"minExtent":8,"maxExtent":8}},"x2":{"field":"b"},"y":{"field":"y","type":"quantitative","title":null,"scale":{"domain":[3118.4,3129.04],"nice":false,"zero":false},"axis":{"orient":"right","tickCount":200,"values":[3128.80,3127.92,3127.04,3126.16,3125.28,3123.52,3122.64,3121.76,3120.88,3120.00,3119.12],"format":".2f","minExtent":17,"maxExtent":17,"labelOverlap":false,"labelFlush":false}},"y2":{"field":"y2"},"color":{"field":"kind","type":"nominal","legend":null,"scale":{"domain":["res","sup","zone","level","price","bmark","rmark","engbox","pxbox","session","box","open","header","rs","eng","px","note","hdr"],"range":["#f080f0","#e040e0","#f6a6f6","#7c7c7c","#c4c4c4","#4169e1","#ff0000","#5a4646","#000000","#ffe4c4","#add8e6","#86efc9","#ffffff","#555555","#ff2020","#ffffff","#444444","#111111"]}}}},
{"data":{"name":"lb"},"mark":{"type":"rule"},"encoding":{"x":{"field":"a","type":"quantitative","title":null,"scale":{"domain":[-0.2,171.75],"nice":false,"zero":false}},"x2":{"field":"b"},"y":{"field":"y","type":"quantitative","title":null,"scale":{"domain":[3118.4,3129.04],"nice":false,"zero":false}},"color":{"field":"kind","type":"nominal","legend":null,"scale":{"domain":["res","sup","zone","level","price","bmark","rmark","engbox","pxbox","session","box","open","header","rs","eng","px","note","hdr"],"range":["#f080f0","#e040e0","#f6a6f6","#7c7c7c","#c4c4c4","#4169e1","#ff0000","#5a4646","#000000","#ffe4c4","#add8e6","#86efc9","#ffffff","#555555","#ff2020","#ffffff","#444444","#111111"]}},"strokeWidth":{"field":"kind","type":"nominal","legend":null,"scale":{"domain":["res","sup","zone","level","price","bmark","rmark"],"range":[1,1,2.5,1,1,1.2,1.2]}}}},
{"data":{"name":"trb"},"mark":{"type":"rule","strokeDash":[1,1],"color":"#4169e1","strokeWidth":0.8},"encoding":{"x":{"field":"a","type":"quantitative","title":null,"scale":{"domain":[-0.2,171.75],"nice":false,"zero":false}},"x2":{"field":"b"},"y":{"field":"y","type":"quantitative","title":null,"scale":{"domain":[3118.4,3129.04],"nice":false,"zero":false}},"y2":{"field":"y2"}}},
{"data":{"name":"cb"},"mark":{"type":"rule","clip":true,"opacity":0.8,"strokeWidth":0.8},"encoding":{"x":{"field":"k","type":"quantitative","title":null,"scale":{"domain":[-0.2,171.75],"nice":false,"zero":false}},"y":{"field":"l","type":"quantitative","title":null,"scale":{"domain":[3118.4,3129.04],"nice":false,"zero":false}},"y2":{"field":"h"},"color":{"condition":{"test":"datum.c >= datum.o","value":"#4169e1"},"value":"#ff0000"}}},
{"data":{"name":"cb"},"mark":{"type":"bar","width":2,"clip":true},"encoding":{"x":{"field":"k","type":"quantitative","title":null,"scale":{"domain":[-0.2,171.75],"nice":false,"zero":false}},"y":{"field":"o","type":"quantitative","title":null,"scale":{"domain":[3118.4,3129.04],"nice":false,"zero":false}},"y2":{"field":"c"},"color":{"condition":{"test":"datum.c >= datum.o","value":"#4169e1"},"value":"#ff0000"}}},
{"data":{"name":"tb"},"transform":[{"filter":"datum.kind != 'hdr'"}],"mark":{"type":"text","clip":false,"baseline":"middle"},"encoding":{"x":{"field":"k","type":"quantitative","title":null,"scale":{"domain":[-0.2,171.75],"nice":false,"zero":false}},"y":{"field":"y","type":"quantitative","title":null,"scale":{"domain":[3118.4,3129.04],"nice":false,"zero":false}},"text":{"field":"s"},"color":{"field":"kind","type":"nominal","legend":null,"scale":{"domain":["res","sup","zone","level","price","bmark","rmark","engbox","pxbox","session","box","open","header","rs","eng","px","note","hdr"],"range":["#f080f0","#e040e0","#f6a6f6","#7c7c7c","#c4c4c4","#4169e1","#ff0000","#5a4646","#000000","#ffe4c4","#add8e6","#86efc9","#ffffff","#555555","#ff2020","#ffffff","#444444","#111111"]}},"size":{"field":"kind","type":"nominal","legend":null,"scale":{"domain":["rs","eng","px","note","hdr"],"range":[5.5,4,3.6,3.5,3.2]}}}},
{"data":{"name":"tb"},"transform":[{"filter":"datum.kind == 'hdr'"}],"mark":{"type":"text","align":"left","baseline":"middle","fontSize":3.2,"color":"#111"},"encoding":{"x":{"field":"k","type":"quantitative","title":null,"scale":{"domain":[-0.2,171.75],"nice":false,"zero":false}},"y":{"field":"y","type":"quantitative","title":null,"scale":{"domain":[3118.4,3129.04],"nice":false,"zero":false}},"text":{"field":"s"}}}
]}
]
}
